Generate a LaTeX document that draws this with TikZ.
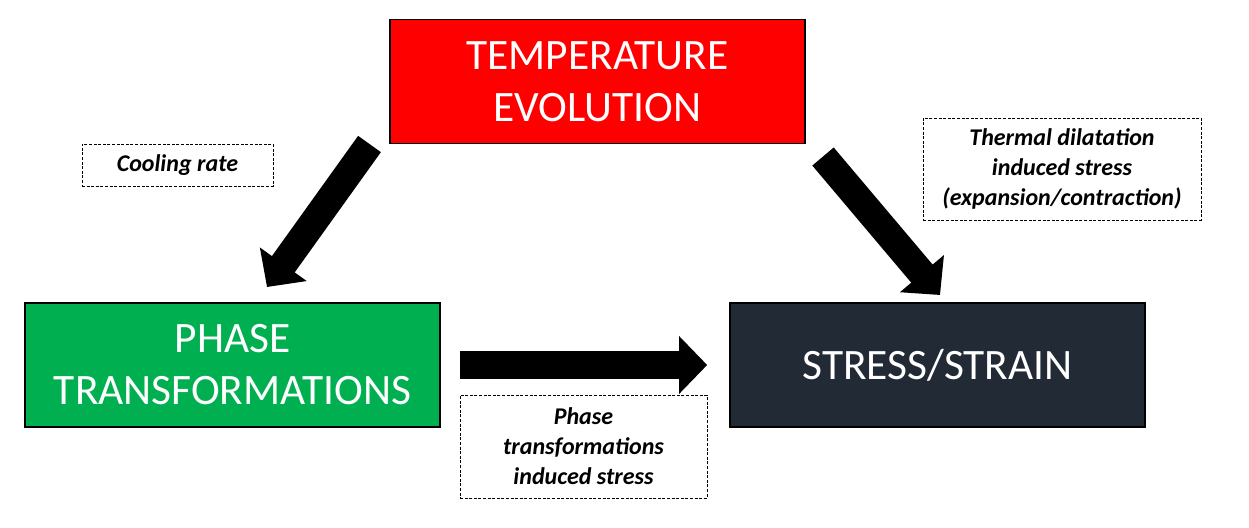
\documentclass[tikz,border=0pt]{standalone}
\usepackage{fontspec}
\setmainfont{Carlito}
\usetikzlibrary{arrows.meta}

\definecolor{tempred}{HTML}{FF0000}
\definecolor{phasegreen}{HTML}{00B050}
\definecolor{stressdark}{HTML}{222A35}

\begin{document}
\begin{tikzpicture}[x=0.5pt,y=-0.5pt,
  block/.style={draw=black,line width=0.8pt,inner sep=0pt,align=center,text=white,
    minimum width=207.5pt,minimum height=62pt,font=\fontsize{21.7}{26}\selectfont},
  note/.style={draw=black,line width=0.45pt,dash pattern=on 1.5pt off 0.8pt,inner sep=0pt,
    align=center,font=\fontsize{12}{15}\selectfont\bfseries\itshape},
  bigarrow/.style={line width=14pt,-{Triangle[length=14pt,width=28pt]}}]
  \useasboundingbox (0,0) rectangle (1249,527);
  \node[block,fill=tempred] (temp) at (597.5,81.5) {TEMPERATURE\\EVOLUTION};
  \node[block,fill=phasegreen] (phase) at (232.5,365) {PHASE\\TRANSFORMATIONS};
  \node[block,fill=stressdark] (stress) at (937.5,365) {STRESS/STRAIN};
  \node[note,minimum width=95.5pt,minimum height=21pt] (cool) at (177.5,165) {Cooling rate};
  \node[note,minimum width=139pt,minimum height=51pt] (therm) at (1062,169)
    {Thermal dilatation\\induced stress\\(expansion/contraction)};
  \node[note,minimum width=123.5pt,minimum height=51.5pt] (ptis) at (583.5,446.5)
    {Phase\\transformations\\induced stress};
  % free ends of the diagonal arrows
  \coordinate (lt) at (369.5,144);
  \coordinate (lh) at (267,287);
  \coordinate (rt) at (823,156.5);
  \coordinate (rh) at (940,295);
  \draw[bigarrow] (lt) -- (lh);
  \draw[bigarrow] (rt) -- (rh);
  \draw[bigarrow,shorten <=9.5pt,shorten >=11pt] (phase.east) -- (stress.west);
\end{tikzpicture}
\end{document}
